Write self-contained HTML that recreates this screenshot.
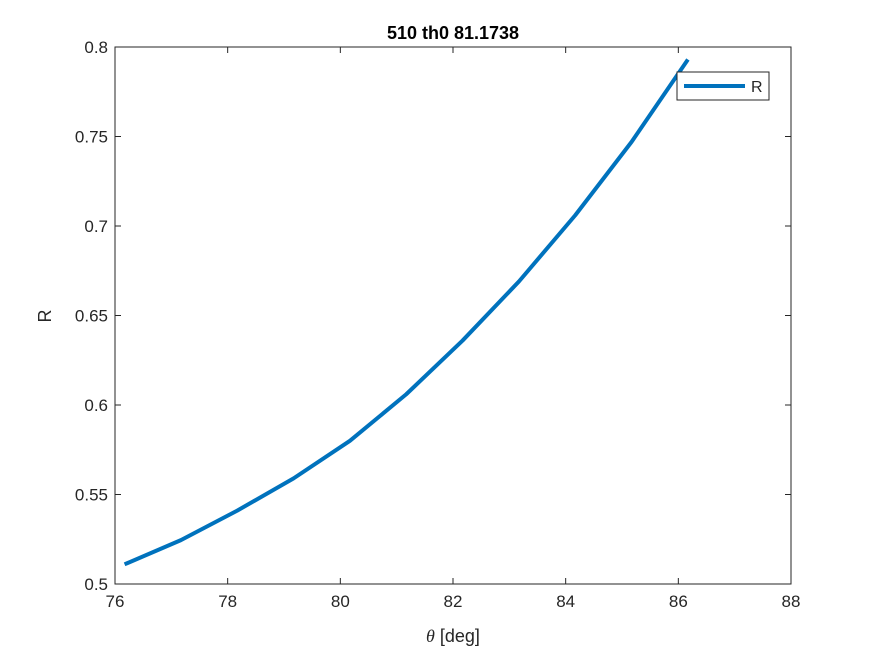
<!DOCTYPE html>
<html><head><meta charset="utf-8"><style>
body{margin:0;background:#fff;}
svg text{font-family:"Liberation Sans",sans-serif;fill:#262626;}
</style></head><body>
<svg id="chart" width="875" height="656" xmlns="http://www.w3.org/2000/svg">
<rect x="0" y="0" width="875" height="656" fill="#fff"/>
<g id="g"></g>
</svg>
<script>
const xValues=[76.17,77.17,78.17,79.17,80.17,81.17,82.17,83.17,84.17,85.17,86.17];
const rValues=[0.511,0.5245,0.541,0.559,0.580,0.606,0.636,0.669,0.706,0.747,0.793];
const xTicks=[76,78,80,82,84,86,88];
const yTicks=[0.5,0.55,0.6,0.65,0.7,0.75,0.8];
const yTickLabels=["0.5","0.55","0.6","0.65","0.7","0.75","0.8"];
const L=115,R=791,T=47,B=584;
const sx=v=>L+(v-76)/(88-76)*(R-L);
const sy=v=>B-(v-0.5)/(0.8-0.5)*(B-T);
const g=document.getElementById('g');
const NS='http://www.w3.org/2000/svg';
function mk(tag,attrs,text){const e=document.createElementNS(NS,tag);for(const k in attrs)e.setAttribute(k,attrs[k]);if(text!==undefined)e.textContent=text;g.appendChild(e);return e;}
let e=mk('rect',{x:L,y:T,width:R-L,height:B-T,fill:'#fff',stroke:'#262626','stroke-width':1});


xTicks.forEach(t=>{
 const x=sx(t);
 mk('line',{x1:x,x2:x,y1:B,y2:B-6,stroke:'#262626'});
 mk('line',{x1:x,x2:x,y1:T,y2:T+6,stroke:'#262626'});
 const tx=mk('text',{x:x,y:B+23,'text-anchor':'middle','font-size':17},String(t));
 
 
});
yTicks.forEach((t,i)=>{
 const y=sy(t);
 mk('line',{x1:L,x2:L+6,y1:y,y2:y,stroke:'#262626'});
 mk('line',{x1:R,x2:R-6,y1:y,y2:y,stroke:'#262626'});
 const tx=mk('text',{x:L-7,y:y+6,'text-anchor':'end','font-size':17},yTickLabels[i]);
 
 
});
const pts=xValues.map((v,i)=>sx(v)+','+sy(rValues[i])).join(' ');
e=mk('polyline',{points:pts,fill:'none',stroke:'#0072BD','stroke-width':4,'stroke-linejoin':'round'});


e=mk('text',{x:453,y:39,'text-anchor':'middle','font-size':18,'font-weight':'bold',style:'fill:#000'},'510 th0 81.1738');


e=mk('text',{x:453,y:642,'text-anchor':'middle','font-size':18});
e.innerHTML='<tspan font-family="Liberation Serif" font-style="italic">θ</tspan> [deg]';


e=mk('text',{x:51,y:316,'text-anchor':'middle','font-size':18,transform:'rotate(-90 51 316)'},'R');


e=mk('rect',{x:677,y:72,width:92,height:28,fill:'#fff',stroke:'#262626','stroke-width':1});


e=mk('line',{x1:684,x2:745,y1:86,y2:86,stroke:'#0072BD','stroke-width':4});


e=mk('text',{x:751,y:92,'font-size':16},'R');


</script>
</body></html>
